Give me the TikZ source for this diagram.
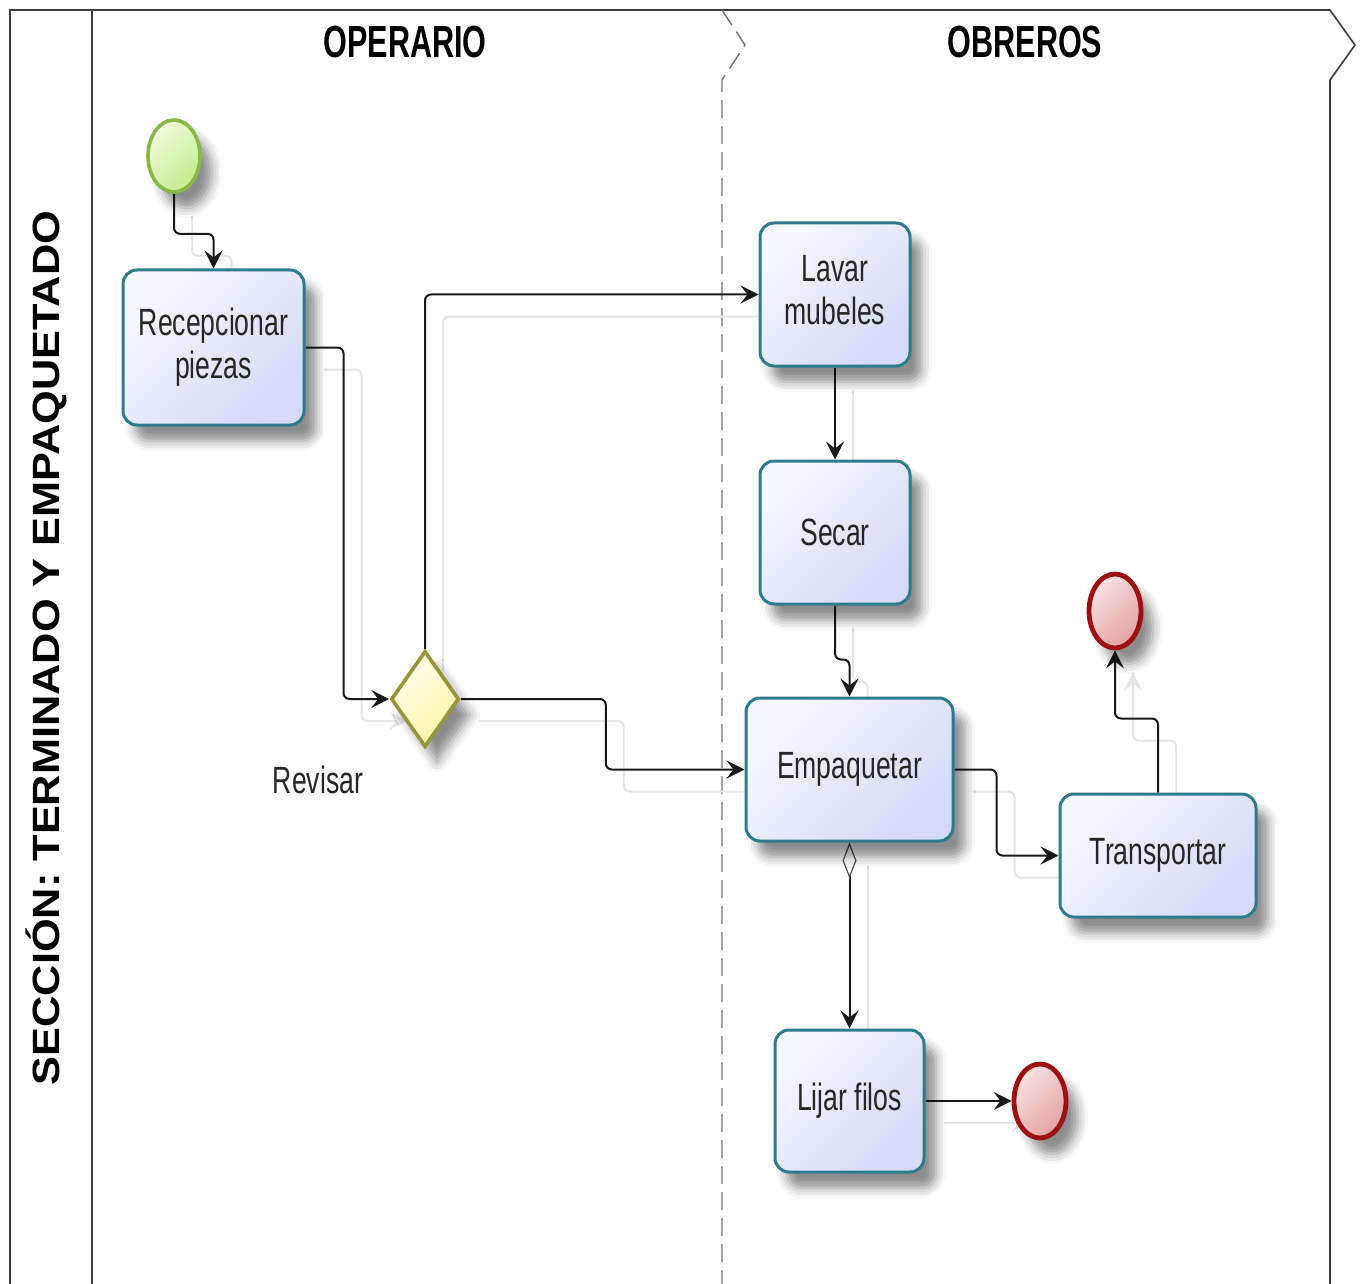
\documentclass[tikz,border=0pt]{standalone}
\usepackage{fontspec}
\setmainfont{Liberation Sans}
\newfontfamily\taskfont[FakeStretch=0.7]{Liberation Sans}
\newfontfamily\headfont[FakeStretch=0.68]{Liberation Sans}
\newfontfamily\sidefont[FakeStretch=1.14]{Liberation Sans}
\usetikzlibrary{shapes.geometric,arrows.meta,shadows.blur,backgrounds}

\definecolor{taskline}{HTML}{2C7C8E}
\definecolor{tasklight}{HTML}{F7F8FF}
\definecolor{taskdark}{HTML}{D5DAF8}
\definecolor{startline}{HTML}{8AB845}
\definecolor{startlight}{HTML}{F0FCDC}
\definecolor{startdark}{HTML}{C3EC8C}
\definecolor{gwline}{HTML}{95953A}
\definecolor{gwlight}{HTML}{FFFFEE}
\definecolor{gwdark}{HTML}{FBF6A6}
\definecolor{endline}{HTML}{9E0F10}
\definecolor{endlight}{HTML}{F9E2E2}
\definecolor{enddark}{HTML}{E3A2A2}
\definecolor{laneline}{HTML}{3C3C3C}
\definecolor{flowshade}{HTML}{E6E6E6}

\tikzset{
  softshadow/.style={blur shadow={shadow xshift=6pt, shadow yshift=-8pt,
      shadow blur radius=5pt, shadow opacity=45}},
  task/.style={draw=taskline, line width=1.5pt, rounded corners=7pt,
    top color=tasklight, bottom color=taskdark, shading angle=45,
    softshadow, align=center, inner sep=0pt, text=black!85,
    font=\taskfont\fontsize{19}{21.5}\selectfont},
  startevt/.style={ellipse, draw=startline, line width=1.8pt,
    top color=startlight, bottom color=startdark, shading angle=45,
    softshadow, minimum width=26pt, minimum height=36pt, inner sep=0pt},
  endevt/.style={ellipse, draw=endline, line width=2.4pt,
    top color=endlight, bottom color=enddark, shading angle=45,
    softshadow, minimum width=26pt, minimum height=37pt, inner sep=0pt},
  gateway/.style={diamond, draw=gwline, line width=1.8pt,
    top color=gwlight, bottom color=gwdark, shading angle=45,
    softshadow, minimum width=34pt, minimum height=48pt, inner sep=0pt},
  tip/.style={-{Stealth[length=9pt, width=9pt, inset=3.5pt]}},
  flowline/.style={draw=black!90, line width=1pt, rounded corners=3pt},
  flowshadow/.style={preaction={draw=flowshade, line width=1pt,
      transform canvas={shift={(9pt,-11pt)}}}},
  flow/.style={flowline, tip, flowshadow},
  lanetitle/.style={font=\headfont\bfseries\fontsize{22.5}{24}\selectfont},
  lane/.style={draw=laneline, line width=0.8pt},
  lanesep/.style={draw=black!55, line width=0.7pt, dash pattern=on 9pt off 4pt},
  plain/.style={font=\taskfont\fontsize{19}{21.5}\selectfont, text=black!85}
}

\begin{document}
\begin{tikzpicture}[x=0.5pt, y=-0.5pt]
  \useasboundingbox (0,0) rectangle (1362,1284);

  % lane headers
  \node[lanetitle] (hop) at (405,42) {OPERARIO};
  \node[lanetitle] (hob) at (1025,42) {OBREROS};
  \node[rotate=90, font=\sidefont\bfseries\fontsize{19}{21}\selectfont]
    (pool) at (46,648) {SECCIÓN: TERMINADO Y EMPAQUETADO};

  % events, gateway and tasks
  \node[startevt] (start) at (174,156) {};
  \node[task, minimum width=90.5pt, minimum height=77.5pt]
    (recv) at (213.5,347.5) {Recepcionar\\piezas};
  \node[gateway] (gw) at (425,699) {};
  \node[plain] (rev) at (318,780) {Revisar};
  \node[task, minimum width=75pt, minimum height=71.5pt, text depth=5pt]
    (lavar) at (835,294.5) {Lavar\\mubeles};
  \node[task, minimum width=75pt, minimum height=71.5pt]
    (secar) at (835,532.5) {Secar};
  \node[task, minimum width=103.5pt, minimum height=71.5pt]
    (empaq) at (849.5,769.5) {Empaquetar};
  \node[task, minimum width=98pt, minimum height=61.5pt]
    (transp) at (1158,855.5) {Transportar};
  \node[task, minimum width=74.5pt, minimum height=71pt]
    (lijar) at (849.5,1101) {Lijar filos};
  \node[endevt] (enda) at (1115,611) {};
  \node[endevt] (endb) at (1040,1101) {};

  \begin{scope}[on background layer]
    % pool and lane borders
    \draw[lane] (10,1284) -- (10,10) -- (1330,10) -- (1355,45) -- (1330,80) -- (1330,1284);
    \draw[lane] (92,10) -- (92,1284);
    \draw[lanesep] (722,10) -- (745,45) -- (722,80) -- (722,1284);

    % sequence flows
    \draw[flow] (start.south) -- ++(0,40) -| (recv.north);
    \draw[flow] (recv.east) -- ++(38,0) |- (gw.west);
    \draw[flow] (gw.north) |- (lavar.west);
    \draw[flow] (gw.east) -- ++(145,0) |- (empaq.west);
    \draw[flow] (lavar.south) -- (secar.north);
    \draw[flow] (secar.south) -- ++(0,54) -| (empaq.north);
    \draw[flow] (empaq.east) -- ++(42,0) |- (transp.west);
    % conditional flow with its diamond marker at the source
    \draw[flowline, preaction={draw=flowshade, line width=1pt, arrows=-,
        transform canvas={shift={(9pt,-11pt)}}},
      {Diamond[fill=white, color=black!70, length=18pt, width=7pt, line width=0.6pt]}-{Stealth[length=9pt, width=9pt, inset=3.5pt]}]
      (empaq.south) -- (lijar.north);
    \draw[flow] (lijar.east) -- (endb.west);
    \draw[flow] (transp.north) -- ++(0,-74) -| (enda.south);
  \end{scope}
\end{tikzpicture}
\end{document}
